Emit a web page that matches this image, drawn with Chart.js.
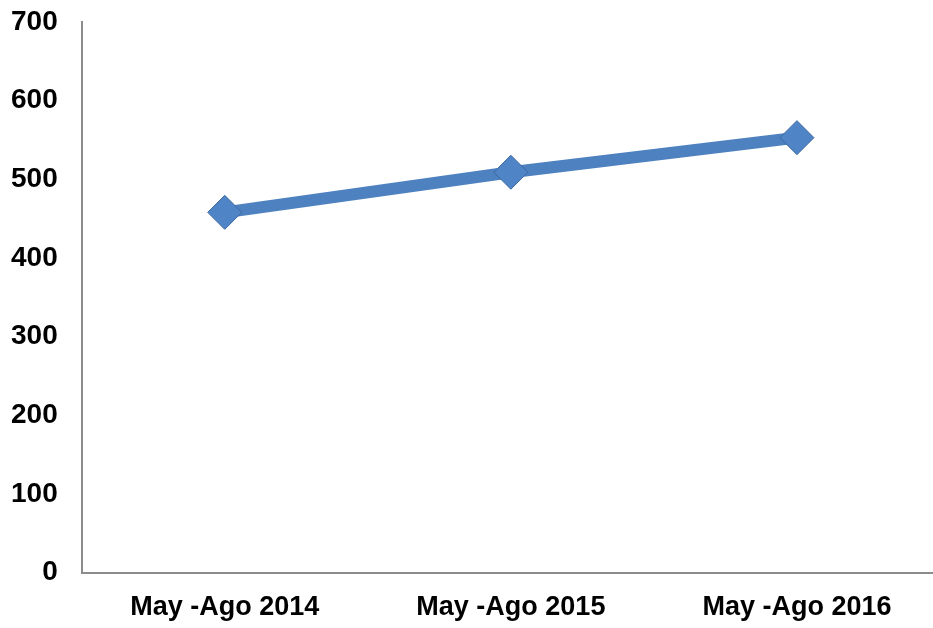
<!DOCTYPE html>
<html>
<head>
<meta charset="utf-8">
<script src="https://cdn.jsdelivr.net/npm/chart.js@4"></script>
<style>
  html, body { margin: 0; padding: 0; background: #fff; overflow: hidden; }
  #wrap { width: 933px; height: 628px; position: relative; overflow: hidden; }
  #chart { position: absolute; left: -24px; top: 0; }
</style>
</head>
<body>
<div id="wrap"><canvas id="chart" width="982" height="648"></canvas></div>
<script>
const categories = ["May -Ago 2014", "May -Ago 2015", "May -Ago 2016"];
const values = [458, 509, 553];
const yTicks = [0, 100, 200, 300, 400, 500, 600, 700];

const ctx = document.getElementById("chart");

new Chart(ctx, {
  type: "line",
  data: {
    labels: categories,
    datasets: [
      {
        data: values,
        borderColor: "#4e81bf",
        borderWidth: 12,
        backgroundColor: "#4e81bf",
        pointStyle: "rectRot",
        pointRadius: 17,
        pointBackgroundColor: "#4f85c6",
        pointBorderColor: "#3a67a0",
        pointBorderWidth: 1,
        tension: 0,
        fill: false,
      },
    ],
  },
  options: {
    responsive: false,
    animation: false,
    layout: { padding: { top: 22, right: -7, bottom: 5, left: 11 } },
    plugins: {
      legend: { display: false },
      tooltip: { enabled: false },
    },
    scales: {
      y: {
        min: 0,
        max: 700,
        afterBuildTicks: (axis) => {
          axis.ticks = yTicks.map((v) => ({ value: v }));
        },
        afterFit: (axis) => {
          axis.paddingTop = 0;
          axis.paddingBottom = 0;
        },
        ticks: {
          color: "#000",
          padding: 24,
          font: { family: "Liberation Sans, Arial", size: 28, weight: "bold" },
        },
        grid: { display: false, drawTicks: false },
        border: { display: true, color: "#8c8c8c", width: 2 },
      },
      x: {
        offset: true,
        afterFit: (axis) => {
          axis.paddingLeft = 0;
          axis.paddingRight = 0;
        },
        ticks: {
          color: "#000",
          padding: 19,
          maxRotation: 0,
          font: { family: "Liberation Sans, Arial", size: 27, weight: "bold" },
        },
        grid: { display: false, drawTicks: false },
        border: { display: true, color: "#8c8c8c", width: 2 },
      },
    },
  },
});
</script>
</body>
</html>
